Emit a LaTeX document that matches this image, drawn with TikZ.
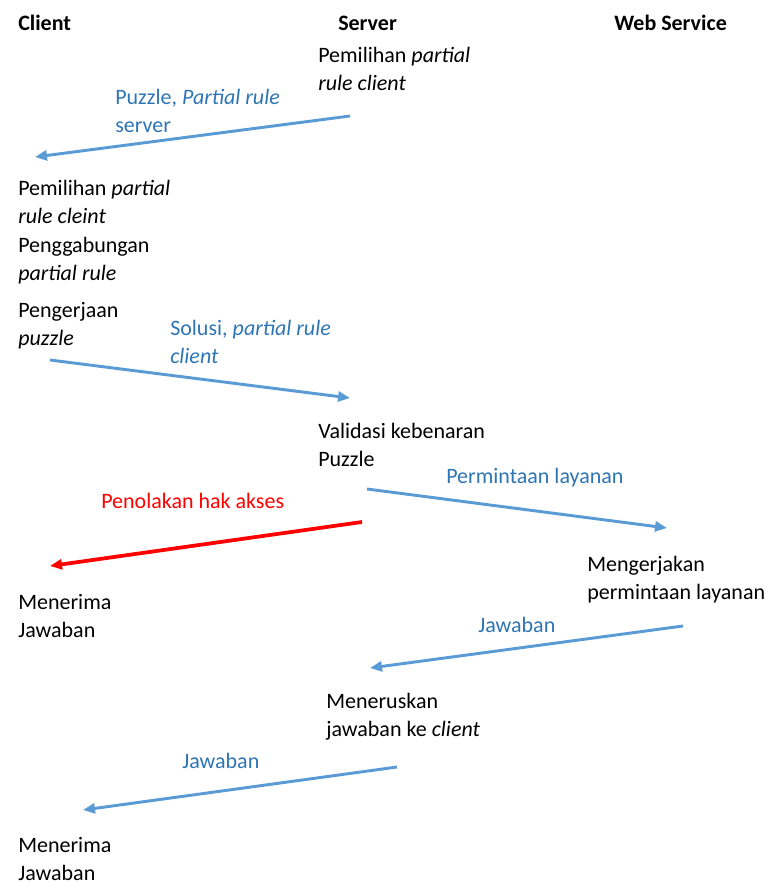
\documentclass[tikz,border=0pt]{standalone}
\usepackage{fontspec}
\setmainfont{Carlito}
\usetikzlibrary{arrows.meta,positioning}

\definecolor{msgblue}{RGB}{91,155,213}
\definecolor{lblblue}{RGB}{46,117,182}

\begin{document}
\begin{tikzpicture}[
    x=0.75pt, y=-0.75pt,
    font=\fontsize{16.5pt}{21pt}\selectfont,
    >={Triangle[length=9pt,width=7.5pt]},
    stepnote/.style={anchor=base west, inner sep=0pt, align=left, text=black},
    actor/.style={anchor=base west, inner sep=0pt, font=\fontsize{16.5pt}{21pt}\selectfont\bfseries},
    msglabel/.style={anchor=base west, inner sep=0pt, align=left, text=lblblue},
    msg/.style={->, draw=msgblue, line width=2.2pt},
    reject/.style={->, draw=red, line width=2.8pt}
]
\useasboundingbox (0,0) rectangle (766,886);

% lanes (base = last line of each note)
\node[actor] (client) at (18,30) {Client};
\node[actor] (server) at (338,30) {Server};
\node[actor] (websvc) at (614,30) {Web Service};

\node[stepnote] (srvpilih) at (318,90) {Pemilihan \textit{partial}\\\textit{rule client}};
\node[msglabel] (lblpuzzle) at (115,132) {Puzzle, \textit{Partial rule}\\server};
\coordinate (puzzleA) at (350,116);
\coordinate (puzzleB) at (35,157);
\draw[msg] (puzzleA) -- (puzzleB);

\node[stepnote] (clipilih) at (18,223) {Pemilihan \textit{partial}\\\textit{rule cleint}};
\node[stepnote] (cligabung) at (18,280) {Penggabungan\\\textit{partial rule}};
\node[stepnote] (clikerja) at (18,345) {Pengerjaan\\\textit{puzzle}};
\node[msglabel] (lblsolusi) at (170,363) {Solusi, \textit{partial rule}\\\textit{client}};
\coordinate (solusiA) at (50,360);
\coordinate (solusiB) at (350,398);
\draw[msg] (solusiA) -- (solusiB);

\node[stepnote] (srvvalid) at (318,466) {Validasi kebenaran\\Puzzle};
\node[msglabel] (lblminta) at (446,483) {Permintaan layanan};
\coordinate (mintaA) at (367,489);
\coordinate (mintaB) at (667,528);
\draw[msg] (mintaA) -- (mintaB);

\node[msglabel, text=red] (lbltolak) at (101,508) {Penolakan hak akses};
\coordinate (tolakA) at (362,522);
\coordinate (tolakB) at (50,566);
\draw[reject] (tolakA) -- (tolakB);

\node[stepnote] (wskerja) at (587,599) {Mengerjakan\\permintaan layanan};
\node[stepnote] (cliterimaa) at (18,637) {Menerima\\Jawaban};

\node[msglabel] (lbljawaba) at (478,632) {Jawaban};
\coordinate (jawabaA) at (683,626);
\coordinate (jawabaB) at (370,668);
\draw[msg] (jawabaA) -- (jawabaB);

\node[stepnote] (srvlanjut) at (326,736) {Meneruskan\\jawaban ke \textit{client}};
\node[msglabel] (lbljawabb) at (182,768) {Jawaban};
\coordinate (jawabbA) at (397,767);
\coordinate (jawabbB) at (83,810);
\draw[msg] (jawabbA) -- (jawabbB);

\node[stepnote] (cliterimab) at (18,880) {Menerima\\Jawaban};
\end{tikzpicture}
\end{document}
